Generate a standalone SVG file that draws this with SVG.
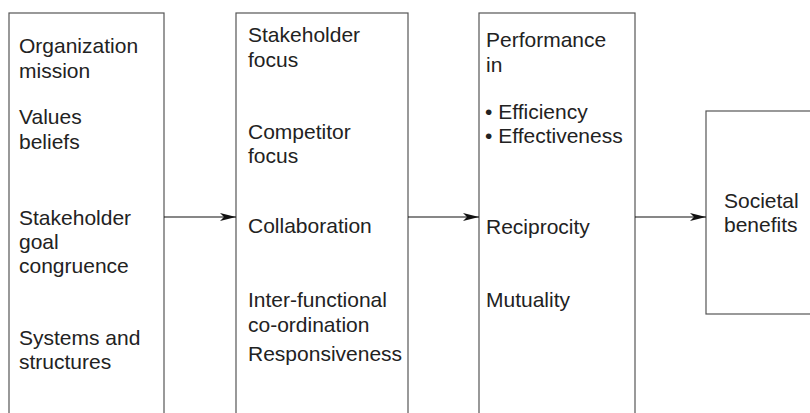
<svg xmlns="http://www.w3.org/2000/svg" width="810" height="413" viewBox="0 0 810 413">
<style>
.box{fill:#fff;stroke:#555;stroke-width:1.2}
.t{font-family:"Liberation Sans",Arial,sans-serif;font-size:21px;fill:#222}
.c{stroke:#111;stroke-width:1.2;fill:none;marker-end:url(#ah)}
</style>
<defs>
<marker id="ah" markerUnits="userSpaceOnUse" markerWidth="17" markerHeight="10" refX="16" refY="4" orient="auto">
<path d="M0,0 L16,4 L0,8 L4,4 z" fill="#111"/>
</marker>
</defs>
<rect width="810" height="413" fill="#fff"/>
<g id="node-antecedents">
<rect class="box" x="9" y="13" width="155" height="420"/>
<text class="t" x="19" y="53">Organization</text>
<text class="t" x="19" y="78">mission</text>
<text class="t" x="19" y="124">Values</text>
<text class="t" x="19" y="149">beliefs</text>
<text class="t" x="19" y="225">Stakeholder</text>
<text class="t" x="19" y="249">goal</text>
<text class="t" x="19" y="273">congruence</text>
<text class="t" x="19" y="345">Systems and</text>
<text class="t" x="19" y="369">structures</text>
</g>
<g id="node-orientation">
<rect class="box" x="236" y="13" width="172" height="420"/>
<text class="t" x="248" y="42">Stakeholder</text>
<text class="t" x="248" y="67">focus</text>
<text class="t" x="248" y="139">Competitor</text>
<text class="t" x="248" y="163">focus</text>
<text class="t" x="248" y="233">Collaboration</text>
<text class="t" x="248" y="307">Inter-functional</text>
<text class="t" x="248" y="332">co-ordination</text>
<text class="t" x="248" y="361">Responsiveness</text>
</g>
<g id="node-performance">
<rect class="box" x="479" y="13" width="156" height="420"/>
<text class="t" x="486" y="47">Performance</text>
<text class="t" x="486" y="72">in</text>
<text class="t" x="485" y="119">• Efficiency</text>
<text class="t" x="485" y="143">• Effectiveness</text>
<text class="t" x="486" y="234">Reciprocity</text>
<text class="t" x="486" y="307">Mutuality</text>
</g>
<g id="node-societal">
<rect class="box" x="706" y="111" width="120" height="203"/>
<text class="t" x="724" y="208">Societal</text>
<text class="t" x="724" y="232">benefits</text>
</g>
<g id="connectors">
<line class="c" x1="164" y1="217" x2="236" y2="217"/>
<line class="c" x1="408" y1="217" x2="479" y2="217"/>
<line class="c" x1="635" y1="217" x2="706" y2="217"/>
</g>
</svg>
